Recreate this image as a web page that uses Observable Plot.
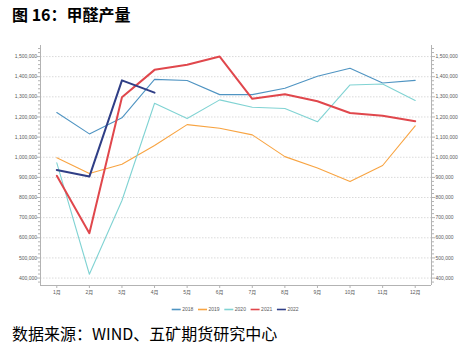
<!DOCTYPE html>
<html><head><meta charset="utf-8">
<script src="https://cdn.jsdelivr.net/npm/d3@7"></script>
<script src="https://cdn.jsdelivr.net/npm/@observablehq/plot@0.6"></script>
<style>
body{margin:0;background:#fff;width:464px;height:351px;position:relative;overflow:hidden;font-family:"Noto Sans CJK SC",sans-serif}
#title{position:absolute;left:12px;top:4px;font-size:16px;font-weight:bold;line-height:20px;color:#000;white-space:nowrap}
#chart{position:absolute;left:0;top:30px}
#legend{position:absolute;left:0;top:297px}
#caption{position:absolute;left:12px;top:323px;font-size:16px;line-height:20px;color:#000;white-space:nowrap}
</style></head>
<body>
<div id="title">图 16：甲醛产量</div>
<div id="chart"></div>
<div id="legend"></div>
<div id="caption">数据来源：WIND、五矿期货研究中心</div>
<script>
const months = ["1月","2月","3月","4月","5月","6月","7月","8月","9月","10月","11月","12月"];
const years = ["2018","2019","2020","2021","2022"];
const colors = ["#4f94c2","#f8a442","#80d3d3","#e0474c","#2f3e86"];
const widths = [1.1,1.1,1.1,2,2];
const v2018 = [1222000,1116000,1196000,1387000,1381000,1311000,1311000,1343000,1402000,1442000,1369000,1382000];
const v2019 = [997000,919000,965000,1058000,1162000,1144000,1111000,1003000,947000,879000,959000,1156000];
const v2020 = [972000,419000,785000,1268000,1192000,1285000,1248000,1242000,1176000,1359000,1364000,1282000];
const v2021 = [908000,623000,1298000,1434000,1459000,1500000,1290000,1313000,1278000,1220000,1206000,1179000];
const v2022 = [937000,904000,1382000,1321000];
const yTicks = [400000,500000,600000,700000,800000,900000,1000000,1100000,1200000,1300000,1400000,1500000];
const yDomain = [363000,1555000];

const series = [v2018,v2019,v2020,v2021,v2022];
const rows = series.map((vals,i)=>vals.map((v,j)=>({m:j+1, v, year:years[i]})));
const minorTicks = d3.range(380000,1555000,20000).filter(t=>t%100000!==0);
const fmt = d3.format(",");
const axisGrey = "#b3b3b3";
const textGrey = "#595959";

const marks = [
  Plot.gridY(yTicks,{stroke:"#d0d0d0",strokeOpacity:1,strokeDasharray:"1.5,1.5",strokeWidth:0.8}),
  Plot.ruleX([0.5,12.5],{stroke:axisGrey,strokeWidth:1}),
  Plot.ruleY([yDomain[0]],{stroke:axisGrey,strokeWidth:1}),
  Plot.axisY({anchor:"left",ticks:yTicks,tickFormat:fmt,tickSize:3,tickPadding:0.5,fontSize:5,fill:textGrey,stroke:axisGrey,label:null}),
  Plot.axisY({anchor:"left",ticks:minorTicks,tickFormat:()=>"",tickSize:2,stroke:axisGrey,label:null}),
  Plot.axisY({anchor:"right",ticks:yTicks,tickFormat:fmt,tickSize:3,tickPadding:1,fontSize:5,fill:textGrey,stroke:axisGrey,label:null}),
  Plot.axisY({anchor:"right",ticks:minorTicks,tickFormat:()=>"",tickSize:2,stroke:axisGrey,label:null}),
  Plot.axisX({ticks:d3.range(1,13),tickFormat:d=>months[d-1],tickSize:3,tickPadding:1.5,fontSize:5,fill:textGrey,stroke:axisGrey,label:null}),
  ...rows.map((r,i)=>Plot.line(r,{x:"m",y:"v",stroke:colors[i],strokeWidth:widths[i]}))
];

const chart = Plot.plot({
  width:464, height:270,
  marginLeft:40, marginRight:33, marginTop:15, marginBottom:15,
  x:{type:"linear",domain:[0.5,12.5]},
  y:{type:"linear",domain:yDomain},
  style:{fontFamily:"'Liberation Sans','Noto Sans CJK SC',sans-serif",background:"transparent"},
  marks
});
document.getElementById("chart").appendChild(chart);

// legend
const lg = d3.select("#legend").append("svg").attr("width",464).attr("height",12);
const itemW = 26.3, startX = 171.7;
years.forEach((y,i)=>{
  const g = lg.append("g").attr("transform",`translate(${startX+i*itemW},5.5)`);
  g.append("line").attr("x1",0).attr("x2",9).attr("y1",0).attr("y2",0).attr("stroke",colors[i]).attr("stroke-width",1.6);
  g.append("text").attr("x",10.5).attr("y",0).attr("dy","0.35em").attr("font-size",5).attr("fill",textGrey)
   .attr("font-family","'Liberation Sans',sans-serif").text(y);
});
</script>
</body></html>
